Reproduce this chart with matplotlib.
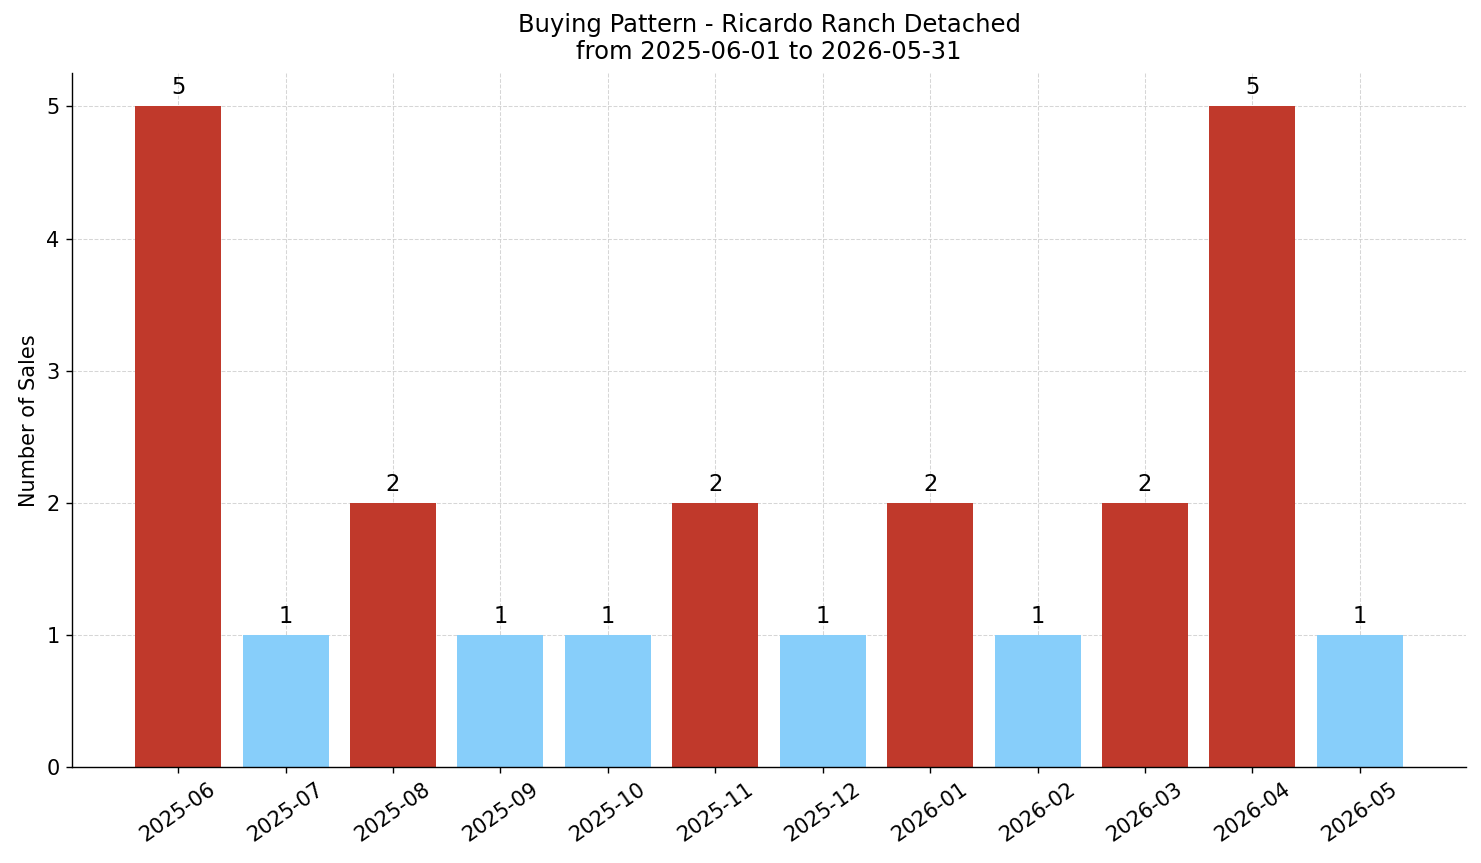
import matplotlib
matplotlib.use("Agg")
import matplotlib.pyplot as plt

months = ["2025-06", "2025-07", "2025-08", "2025-09", "2025-10", "2025-11",
          "2025-12", "2026-01", "2026-02", "2026-03", "2026-04", "2026-05"]
sales = [5, 1, 2, 1, 1, 2, 1, 2, 1, 2, 5, 1]
high_color = "#c0392b"
low_color = "#87cefa"

fig = plt.figure(figsize=(1481 / 125, 863 / 125), dpi=125)
ax = fig.add_axes([0.0485, 0.111, 0.9415, 0.804])
x = list(range(len(months)))
colors = [high_color if v >= 2 else low_color for v in sales]
ax.bar(x, sales, width=0.8, color=colors, zorder=2)
for xi, v in zip(x, sales):
    ax.annotate(str(v), (xi, v), xytext=(0, 4), textcoords="offset points",
                ha="center", va="bottom", fontsize=13)

ax.set_xticks(x)
ax.set_xticklabels(months, rotation=35, ha="center", fontsize=12)
ax.tick_params(axis="y", labelsize=12)
ax.set_ylabel("Number of Sales", fontsize=12)
ax.set_title("Buying Pattern - Ricardo Ranch Detached\nfrom 2025-06-01 to 2026-05-31",
             fontsize=14, pad=8)
ax.grid(True, linestyle="--", color="#cccccc", alpha=0.8, linewidth=0.6, zorder=0)
ax.set_axisbelow(True)
ax.spines["top"].set_visible(False)
ax.spines["right"].set_visible(False)

fig.savefig("out.png", dpi=125)
